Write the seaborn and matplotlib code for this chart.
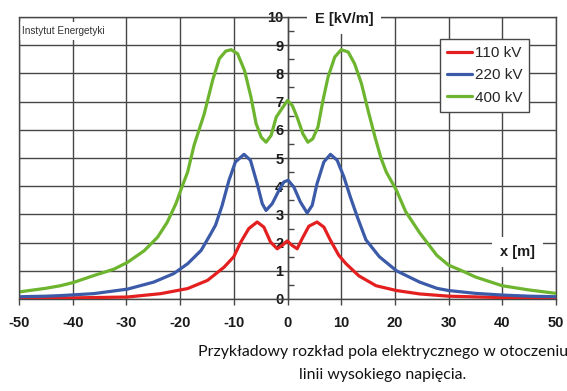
import numpy as np
import pandas as pd
import matplotlib
matplotlib.use('Agg')
import matplotlib.pyplot as plt
import seaborn as sns
from matplotlib.ticker import MultipleLocator

sns.set_theme(style='white')
plt.rcParams['font.family'] = ['Liberation Sans', 'DejaVu Sans']
plt.rcParams['axes.unicode_minus'] = False

series_names = ['110 kV', '220 kV', '400 kV']
series_colors = ['#e3201f', '#3b5aa8', '#6db42f']

x_110 = [-50, -40, -29.8, -23.6, -18.6, -14.9, -11.8, -10, -8.75, -7.2, -5.65, -4.4, -3.16, -1.92,
         -1.0, -0.06, 0.87, 1.8, 2.73, 3.97, 5.5, 6.77, 8.0, 9.55, 10.9, 13.3, 16.5, 20.3, 24.6,
         30, 40, 50]
E_110 = [0.03, 0.04, 0.07, 0.19, 0.37, 0.66, 1.13, 1.5, 2.0, 2.5, 2.73, 2.55, 2.02, 1.78,
         1.9, 2.06, 1.9, 1.78, 2.14, 2.58, 2.73, 2.55, 2.08, 1.55, 1.25, 0.82, 0.47, 0.3, 0.18,
         0.1, 0.05, 0.03]

x_220 = [-50, -45, -42.3, -36.1, -29.8, -24.9, -21.2, -18.6, -16.1, -14.3, -13.4, -12.2, -10.9,
         -9.7, -8.1, -6.9, -5.65, -4.7, -4.0, -2.85, -1.6, -0.68, 0.12, 1.18, 2.4, 3.66, 4.6, 5.5,
         6.77, 8.0, 9.25, 10.5, 11.7, 13.0, 14.6, 17.1, 20.3, 24.6, 27.8, 30, 35, 40, 45, 50]
E_220 = [0.08, 0.1, 0.12, 0.19, 0.35, 0.6, 0.9, 1.25, 1.72, 2.31, 2.62, 3.3, 4.21,
         4.86, 5.13, 4.92, 4.09, 3.38, 3.14, 3.38, 3.85, 4.15, 4.21, 3.97, 3.44, 3.05, 3.32, 4.09,
         4.86, 5.13, 4.92, 4.33, 3.62, 2.91, 2.1, 1.5, 1.0, 0.6, 0.38, 0.3, 0.2, 0.14, 0.1, 0.08]

x_400 = [-50, -45, -42.3, -39.8, -36.1, -32.3, -29.8, -26.7, -24.2, -22.4, -20.8, -19.6, -18.6,
         -17.4, -15.5, -13.95, -12.7, -11.5, -10.5, -9.3, -8.0, -6.8, -5.85, -4.9, -4.0, -3.05,
         -2.1, -0.87, 0, 0.9, 1.9, 2.86, 3.8, 4.7, 5.67, 6.6, 7.55, 8.8, 10.0, 11.3, 12.5, 13.77,
         15.0, 16.3, 17.4, 18.4, 20.3, 22, 24.6, 27.8, 30, 32.5, 35, 40, 45, 50]
E_400 = [0.25, 0.38, 0.47, 0.59, 0.83, 1.06, 1.3, 1.71, 2.19, 2.72, 3.37, 4.0, 4.5,
         5.45, 6.57, 7.75, 8.52, 8.79, 8.84, 8.7, 8.1, 7.16, 6.22, 5.74, 5.56, 5.8,
         6.45, 6.8, 7.04, 6.86, 6.39, 5.86, 5.56, 5.68, 6.1, 7.04, 7.87, 8.58, 8.84, 8.76, 8.34, 7.64,
         6.69, 5.74, 5.0, 4.5, 3.85, 3.1, 2.35, 1.55, 1.2, 1.0, 0.78, 0.47, 0.32, 0.2]

x_ticks = list(range(-50, 51, 10))
y_ticks = list(range(0, 11))

df = pd.concat([
    pd.DataFrame({'x': x_110, 'E': E_110, 'series': series_names[0]}),
    pd.DataFrame({'x': x_220, 'E': E_220, 'series': series_names[1]}),
    pd.DataFrame({'x': x_400, 'E': E_400, 'series': series_names[2]}),
], ignore_index=True)

gc = '#474747'
fig = plt.figure(figsize=(5.67, 3.91), dpi=100)
ax = fig.add_axes([19/567, 92/391, 537/567, 282/391])
sns.lineplot(data=df, x='x', y='E', hue='series', hue_order=series_names,
             palette=dict(zip(series_names, series_colors)), linewidth=2.3,
             estimator=None, ax=ax, zorder=4, solid_joinstyle='round', solid_capstyle='round')
ax.set_xlim(-50, 50)
ax.set_ylim(0, 10)
ax.set_xticks(x_ticks)
ax.set_yticks(y_ticks)
ax.yaxis.set_minor_locator(MultipleLocator(0.5))
ax.set_xlabel('')
ax.set_ylabel('')
ax.grid(True, which='major', color=gc, linewidth=1.0)
ax.set_axisbelow(True)

for s in ['top', 'right', 'bottom', 'left']:
    ax.spines[s].set_color(gc)
    ax.spines[s].set_linewidth(1.0)
ax.spines['left'].set_position(('data', 0))
ax.axvline(-50, color=gc, linewidth=1.0, clip_on=False, zorder=6)

ax.tick_params(axis='y', which='major', length=0, pad=3, labelsize=10.5, labelcolor='#1a1a1a')
ax.tick_params(axis='y', which='minor', direction='in', length=4, width=1, color=gc, left=True)
ax.tick_params(axis='x', which='major', direction='out', length=4, width=1, color=gc, pad=8,
               labelsize=10.5, labelcolor='#1a1a1a', bottom=True)
for lab in ax.get_xticklabels() + ax.get_yticklabels():
    lab.set_fontweight('bold')

handles, labels = ax.get_legend_handles_labels()
leg = ax.legend(handles, labels, loc='upper right', bbox_to_anchor=(0.9497, 0.922),
                frameon=True, fancybox=False, edgecolor=gc, framealpha=1, fontsize=11,
                handlelength=1.6, handletextpad=0.2, borderpad=0.45, labelspacing=0.55,
                borderaxespad=0)
leg.get_frame().set_linewidth(1.0)
leg.set_zorder(7)

ax.text(10.5, 9.93, 'E [kV/m]', ha='center', va='center', fontsize=10.5, fontweight='bold',
        color='#1a1a1a', clip_on=False, zorder=8,
        bbox=dict(boxstyle='square,pad=0.55', fc='white', ec='none'))
ax.text(42.8, 1.65, 'x [m]', ha='center', va='center', fontsize=10.5, fontweight='bold',
        color='#1a1a1a', zorder=8,
        bbox=dict(boxstyle='square,pad=0.55', fc='white', ec='none'))
ax.text(-49.4, 9.5, 'Instytut Energetyki', ha='left', va='center', fontsize=7.2,
        color='#333333', zorder=5,
        bbox=dict(boxstyle='square,pad=0.4', fc='white', ec='none'))

fig.text(383/567, 1 - 352/391, 'Przykładowy rozkład pola elektrycznego w otoczeniu',
         ha='center', va='center', fontsize=11.4, family=['Lato', 'DejaVu Sans'], color='#111111')
fig.text(383/567, 1 - 375/391, 'linii wysokiego napięcia.',
         ha='center', va='center', fontsize=11.4, family=['Lato', 'DejaVu Sans'], color='#111111')

fig.savefig('out.png', dpi=100, facecolor='white')
